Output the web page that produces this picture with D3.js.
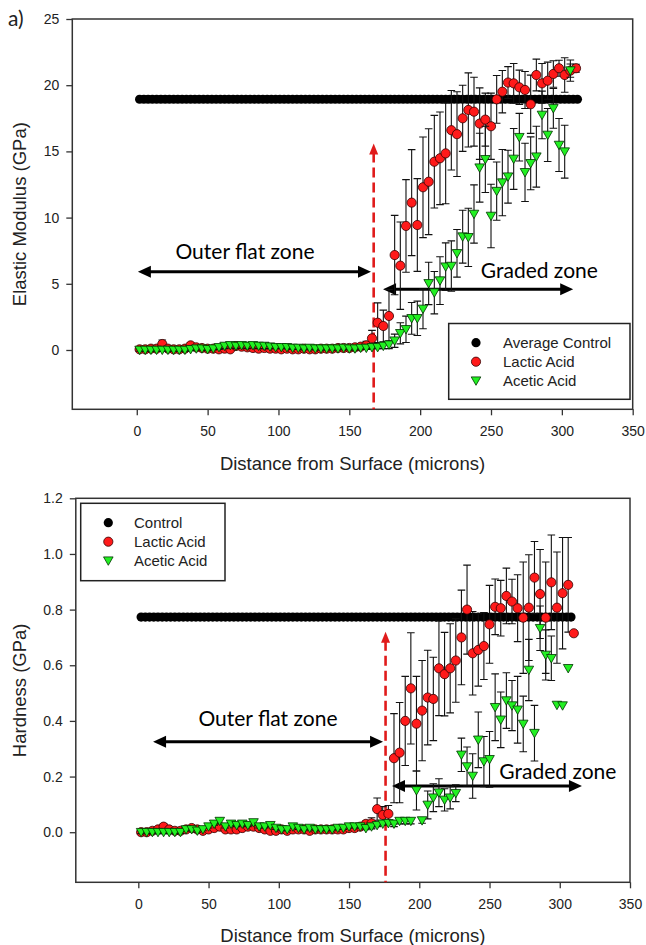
<!DOCTYPE html>
<html>
<head>
<meta charset="utf-8">
<script src="https://cdn.jsdelivr.net/npm/d3@7"></script>
<style>
  body { margin: 0; background: #fff; }
  svg text { font-family: "Liberation Sans", Arial, sans-serif; fill: #222; }
</style>
</head>
<body>
<svg id="fig" width="646" height="945"></svg>
<script>
// Nanoindentation profiles: elastic modulus (top) and hardness (bottom)
// vs distance from surface, control / lactic acid / acetic acid.

// depth of each indent (microns), shared by the treated series
const depth = [2,6,10,14,18,22,26,30,34,38, 42,46,50,54,58,62,66,70,74,78,
  82,86,90,94,98,102,106,110,114,118, 122,126,130,134,138,142,146,150,154,158,
  162,166,170,174,178,182,186,190,194,198, 202,206,210,214,218,222,226,230,234,238,
  242,246,250,254,258,262,266,270,274,278, 282,286,290,294,298,302,306,310];

// the average control is plotted on a finer grid
const controlDepth = [2,5,8,11,14,17,20,23,26,29, 32,35,38,41,44,47,50,53,56,59,
  62,65,68,71,74,77,80,83,86,89, 92,95,98,101,104,107,110,113,116,119,
  122,125,128,131,134,137,140,143,146,149, 152,155,158,161,164,167,170,173,176,179,
  182,185,188,191,194,197,200,203,206,209, 212,215,218,221,224,227,230,233,236,239,
  242,245,248,251,254,257,260,263,266,269, 272,275,278,281,284,287,290,293,296,299,
  302,305,308,311];

const xTicks = [0, 50, 100, 150, 200, 250, 300, 350];

// ---- elastic modulus (GPa) ----
const controlModulus = 18.94;
const modLactic = [0.05,0.05,0.1,0.1,0.45,0.1,0.05,0.05,0.1,0.35,
  0.2,0.15,0.1,0.1,0.05,0.1,0.05,0.3,0.25,0.2,
  0.15,0.1,0.15,0.1,0.1,0.05,0.1,0.05,0.05,0.1,
  0.05,0.05,0.1,0.1,0.1,0.15,0.15,0.15,0.2,0.25,
  0.35,0.88,2.06,1.81,2.57,7.17,6.37,9.37,11.13,9.44,
  12.29,12.71,14.22,14.48,14.85,16.6,16.3,17.5,18.13,18.0,
  17.1,17.4,16.9,18.93,19.51,20.2,20.14,19.84,19.64,18.56,
  20.77,20.14,20.34,20.85,21.28,20.77,21.1,21.28];
const modLacticErr = [0.1,0.1,0.1,0.1,0.3,0.1,0.1,0.1,0.1,0.2,
  0.1,0.1,0.1,0.1,0.1,0.1,0.1,0.2,0.2,0.1,
  0.1,0.1,0.1,0.1,0.1,0.1,0.1,0.1,0.1,0.1,
  0.1,0.1,0.1,0.1,0.1,0.1,0.1,0.1,0.1,0.2,
  0.3,0.6,1.5,1.2,2.0,3.0,3.3,3.5,4.0,3.5,
  3.8,4.0,3.5,3.5,3.8,3.0,3.2,2.5,2.8,2.6,
  2.7,2.0,2.5,1.8,1.6,1.2,1.5,1.3,1.4,2.2,
  1.2,1.5,1.4,1.0,0.6,1.3,0.8,0.3];
const modAcetic = [0,0,0,0,0,0,0,0,0,0.05,
  0.1,0.1,0.05,0.1,0.2,0.3,0.35,0.3,0.35,0.3,
  0.35,0.3,0.3,0.25,0.2,0.2,0.2,0.15,0.15,0.1,
  0.15,0.1,0.1,0.1,0.1,0.1,0.15,0.1,0.1,0.15,
  0.15,0.2,0.2,0.3,0.4,0.7,1.26,1.56,2.39,2.39,
  3.1,5.03,4.33,5.24,6.29,6.34,7.3,8.56,8.51,10.27,
  13.77,14.4,10.12,12.0,12.64,13.09,14.43,16.07,13.42,14.1,
  14.6,17.75,16.24,18.25,15.48,14.98,21.1,null];
const modAceticErr = [0.1,0.1,0.1,0.1,0.1,0.1,0.1,0.1,0.1,0.1,
  0.1,0.1,0.1,0.1,0.15,0.2,0.2,0.2,0.2,0.2,
  0.2,0.2,0.2,0.15,0.1,0.1,0.1,0.1,0.1,0.1,
  0.1,0.1,0.1,0.1,0.1,0.1,0.1,0.1,0.1,0.1,
  0.1,0.1,0.1,0.2,0.3,0.5,0.8,1.0,1.2,1.3,
  1.5,1.6,1.6,1.8,1.8,1.9,1.8,2.0,2.2,2.2,
  2.6,2.5,2.4,2.2,2.5,2.0,2.3,1.8,2.2,2.0,
  2.3,1.8,2.0,1.5,2.0,2.0,0.5,null];

// ---- hardness (GPa) ----
const controlHardness = 0.773;
const hardLactic = [0,0,0.005,0.01,0.02,0.01,0.005,0.005,0.01,0.015,
  0.01,0.005,0.01,0.015,0.02,0.01,0.01,0.01,0.015,0.02,
  0.02,0.015,0.01,0.005,0.005,0.01,0.005,0.01,0.01,0.01,
  0.005,0.01,0.01,0.01,0.01,0.01,0.01,0.015,0.015,0.02,
  0.03,0.032,0.083,0.062,0.066,0.266,0.286,0.40,0.517,0.39,
  0.437,0.484,0.479,0.589,0.568,0.589,0.617,0.70,0.80,0.643,
  0.655,0.669,0.747,0.81,0.805,0.849,0.829,0.805,0.771,0.807,
  0.915,0.856,0.771,0.898,0.807,0.859,0.889,0.715];
const hardLacticErr = [0.005,0.005,0.005,0.005,0.01,0.005,0.005,0.005,0.005,0.005,
  0.005,0.005,0.005,0.005,0.005,0.005,0.005,0.005,0.005,0.005,
  0.005,0.005,0.005,0.005,0.005,0.005,0.005,0.005,0.005,0.005,
  0.005,0.005,0.005,0.005,0.005,0.005,0.005,0.005,0.005,0.005,
  0.01,0.02,0.04,0.03,0.03,0.16,0.18,0.16,0.2,0.17,
  0.18,0.17,0.15,0.17,0.15,0.16,0.15,0.17,0.16,0.15,
  0.13,0.12,0.14,0.1,0.1,0.1,0.08,0.12,0.2,0.19,
  0.13,0.16,0.2,0.17,0.2,0.2,0.17,0];
const hardAcetic = [0,0,0,0,0,0,0,0,0.01,0.01,
  0.005,0.01,0.02,0.03,0.04,0.02,0.03,0.025,0.03,0.025,
  0.035,0.02,0.02,0.025,0.015,0.01,0.01,0.02,0.015,0.01,
  0.015,0.01,0.01,0.01,0.01,0.015,0.015,0.02,0.02,0.02,
  0.014,0.02,0.025,0.03,0.032,0.03,0.04,0.04,0.04,0.15,
  0.042,0.098,0.124,0.142,0.116,0.124,0.14,0.278,0.236,0.202,
  0.332,0.254,0.262,0.449,0.404,0.473,0.455,0.44,0.389,0.583,
  0.356,0.733,0.637,0.625,0.457,0.455,0.589,null];
const hardAceticErr = [0.005,0.005,0.005,0.005,0.005,0.005,0.005,0.005,0.005,0.005,
  0.005,0.005,0.005,0.005,0.01,0.005,0.005,0.005,0.005,0.005,
  0.01,0.005,0.005,0.005,0.005,0.005,0.005,0.005,0.005,0.005,
  0.005,0.005,0.005,0.005,0.005,0.005,0.005,0.005,0.005,0.005,
  0.005,0.005,0.005,0.005,0.005,0.01,0.01,0.01,0.01,0.07,
  0.01,0.05,0.05,0.05,0.04,0.04,0.03,0.06,0.07,0.08,
  0.1,0.09,0.1,0.12,0.1,0.1,0.09,0.12,0.1,0.11,
  0.1,0.08,0.09,0.08,0,0,0,null];

const RED = "#ff1a1a", GREEN = "#22f022", INK = "#222";
const TRI = "M-4.8,-3.8L4.8,-3.8L0,4.6Z";   // downward triangle marker

const svg = d3.select("#fig");

svg.append("text").attr("x", 8).attr("y", 26)
  .style("font-family", "Lato, 'Open Sans', sans-serif").attr("font-size", 21)
  .text("a)");

function rows(vals, errs) {
  return depth.map((d, i) => ({x: d, y: vals[i], e: errs ? errs[i] : 0}))
    .filter(r => r.y != null);
}

function drawPanel(p) {
  const x = d3.scaleLinear().domain(p.xDomain).range([p.left, p.right]);
  const y = d3.scaleLinear().domain(p.yDomain).range([p.bottom, p.top]);
  const g = svg.append("g");

  // axes
  const ax = g.append("g").attr("transform", `translate(0,${p.bottom})`)
    .call(d3.axisBottom(x).tickValues(xTicks).tickSize(6).tickSizeOuter(0).tickPadding(11));
  const ay = g.append("g").attr("transform", `translate(${p.left},0)`)
    .call(d3.axisLeft(y).tickValues(p.yTicks).tickFormat(p.yFormat).tickSize(6).tickSizeOuter(0).tickPadding(7));
  [ax, ay].forEach(a => {
    a.attr("font-size", 14).attr("font-family", null);
    a.select(".domain").remove();
    a.selectAll(".tick line").attr("stroke", "#333").attr("stroke-width", 1.3);
    a.selectAll(".tick text").attr("fill", INK);
  });

  // frame
  g.append("rect")
    .attr("x", p.left).attr("y", p.top)
    .attr("width", p.right - p.left).attr("height", p.bottom - p.top)
    .attr("fill", "none").attr("stroke", "#333").attr("stroke-width", 1.5);

  // axis titles
  g.append("text")
    .attr("x", (p.left + p.right) / 2).attr("y", p.xTitleY)
    .attr("text-anchor", "middle").attr("font-size", 18.5)
    .text("Distance from Surface (microns)");
  g.append("text")
    .attr("transform", `translate(19,${(p.top + p.bottom) / 2}) rotate(-90)`)
    .attr("text-anchor", "middle").attr("dominant-baseline", "central")
    .attr("font-size", 18.5)
    .text(p.yTitle);

  // annotations (drawn under the data)
  const ann = g.append("g");
  const dx = x(p.dashX);
  ann.append("line")
    .attr("x1", dx).attr("x2", dx)
    .attr("y1", y(p.dashTop) + 9).attr("y2", p.bottom)
    .attr("stroke", "#e01b1b").attr("stroke-width", 2.6).attr("stroke-dasharray", "10,5");
  ann.append("path")
    .attr("d", `M${dx},${y(p.dashTop)}L${dx - 4.5},${y(p.dashTop) + 11}L${dx + 4.5},${y(p.dashTop) + 11}Z`)
    .attr("fill", "#e01b1b");

  function doubleArrow(a) {
    const x1 = x(a.x1), x2 = x(a.x2), yy = y(a.y);
    ann.append("line").attr("x1", x1 + 8).attr("x2", x2 - 8).attr("y1", yy).attr("y2", yy)
      .attr("stroke", "#000").attr("stroke-width", 3);
    ann.append("path").attr("d", `M${x1},${yy}L${x1 + 13},${yy - 6}L${x1 + 13},${yy + 6}Z`).attr("fill", "#000");
    ann.append("path").attr("d", `M${x2},${yy}L${x2 - 13},${yy - 6}L${x2 - 13},${yy + 6}Z`).attr("fill", "#000");
  }
  doubleArrow(p.outerArrow);
  doubleArrow(p.gradedArrow);
  ann.append("text")
    .attr("x", x(p.outerText.x)).attr("y", y(p.outerText.y))
    .attr("text-anchor", "middle").attr("font-size", 21)
    .style("font-family", "Lato, 'Open Sans', sans-serif").style("fill", "#000")
    .text("Outer flat zone");
  ann.append("text")
    .attr("x", x(p.gradedText.x)).attr("y", y(p.gradedText.y))
    .attr("font-size", 21)
    .style("font-family", "Lato, 'Open Sans', sans-serif").style("fill", "#000")
    .text("Graded zone");

  // control
  g.append("g").selectAll("circle")
    .data(controlDepth.filter(d => d <= p.controlEnd)).join("circle")
    .attr("cx", d => x(d)).attr("cy", y(p.control))
    .attr("r", 4.6).attr("fill", "#000");

  // series with error bars
  p.series.forEach(s => {
    const data = rows(s.values, s.errs);
    g.append("g").selectAll("path")
      .data(data.filter(d => d.e > 0)).join("path")
      .attr("d", d => {
        const cx = x(d.x), t = y(d.y + d.e), b = y(d.y - d.e);
        return `M${cx},${t}V${b}M${cx - 3.8},${t}h7.6M${cx - 3.8},${b}h7.6`;
      })
      .attr("fill", "none").attr("stroke", "#111").attr("stroke-width", 1.1);
    const m = g.append("g");
    if (s.shape === "circle") {
      m.selectAll("circle").data(data).join("circle")
        .attr("cx", d => x(d.x)).attr("cy", d => y(d.y)).attr("r", 4.6)
        .attr("fill", s.color).attr("stroke", "#300").attr("stroke-width", 0.8);
    } else {
      m.selectAll("path").data(data).join("path")
        .attr("d", TRI).attr("transform", d => `translate(${x(d.x)},${y(d.y)})`)
        .attr("fill", s.color).attr("stroke", "#030").attr("stroke-width", 0.8);
    }
  });

  // legend
  const L = p.legend;
  const lg = g.append("g");
  lg.append("rect").attr("x", L.x).attr("y", L.y).attr("width", L.w).attr("height", L.h)
    .attr("fill", "#fff").attr("stroke", "#222").attr("stroke-width", 1.5);
  const items = [
    {label: p.controlLabel, shape: "circle", color: "#000"},
    {label: "Lactic Acid", shape: "circle", color: RED},
    {label: "Acetic Acid", shape: "tri", color: GREEN}
  ];
  items.forEach((it, i) => {
    const cy = L.y + L.row0 + i * 19;
    if (it.shape === "circle") {
      lg.append("circle").attr("cx", L.x + L.sym).attr("cy", cy).attr("r", 4.6)
        .attr("fill", it.color).attr("stroke", it.color === "#000" ? "none" : "#300").attr("stroke-width", 0.8);
    } else {
      lg.append("path").attr("d", TRI).attr("transform", `translate(${L.x + L.sym},${cy})`)
        .attr("fill", it.color).attr("stroke", "#030").attr("stroke-width", 0.8);
    }
    lg.append("text").attr("x", L.x + L.txt).attr("y", cy)
      .attr("dominant-baseline", "central").attr("font-size", 15)
      .text(it.label);
  });
}

drawPanel({
  left: 72.3, right: 632.7, top: 19, bottom: 409.3,
  xDomain: [-45.5, 350], yDomain: [-4.48, 25],
  yTicks: [0, 5, 10, 15, 20, 25], yFormat: d3.format("d"),
  xTitleY: 470, yTitle: "Elastic Modulus (GPa)",
  control: controlModulus, controlEnd: 311, controlLabel: "Average Control",
  series: [
    {values: modLactic, errs: modLacticErr, shape: "circle", color: RED},
    {values: modAcetic, errs: modAceticErr, shape: "tri", color: GREEN}
  ],
  dashX: 167.2, dashTop: 15.6,
  outerArrow: {x1: 0.8, x2: 165.3, y: 5.9},
  gradedArrow: {x1: 173.8, x2: 308, y: 4.58},
  outerText: {x: 76.4, y: 6.87},
  gradedText: {x: 242.8, y: 5.47},
  legend: {x: 448.7, y: 323.5, w: 181.3, h: 75.8, row0: 19.2, sym: 27.3, txt: 54.3}
});

drawPanel({
  left: 75.8, right: 630, top: 498.3, bottom: 882.3,
  xDomain: [-44.5, 350], yDomain: [-0.18, 1.2],
  yTicks: [0, 0.2, 0.4, 0.6, 0.8, 1.0, 1.2], yFormat: d3.format(".1f"),
  xTitleY: 941.7, yTitle: "Hardness (GPa)",
  control: controlHardness, controlEnd: 308, controlLabel: "Control",
  series: [
    {values: hardLactic, errs: hardLacticErr, shape: "circle", color: RED},
    {values: hardAcetic, errs: hardAceticErr, shape: "tri", color: GREEN}
  ],
  dashX: 176, dashTop: 0.72,
  outerArrow: {x1: 10.5, x2: 174.2, y: 0.325},
  gradedArrow: {x1: 180.6, x2: 315.8, y: 0.166},
  outerText: {x: 92.3, y: 0.38},
  gradedText: {x: 257, y: 0.19},
  legend: {x: 80.7, y: 503.3, w: 144.3, h: 77.4, row0: 19.4, sym: 27.6, txt: 53.3}
});
</script>
</body>
</html>
